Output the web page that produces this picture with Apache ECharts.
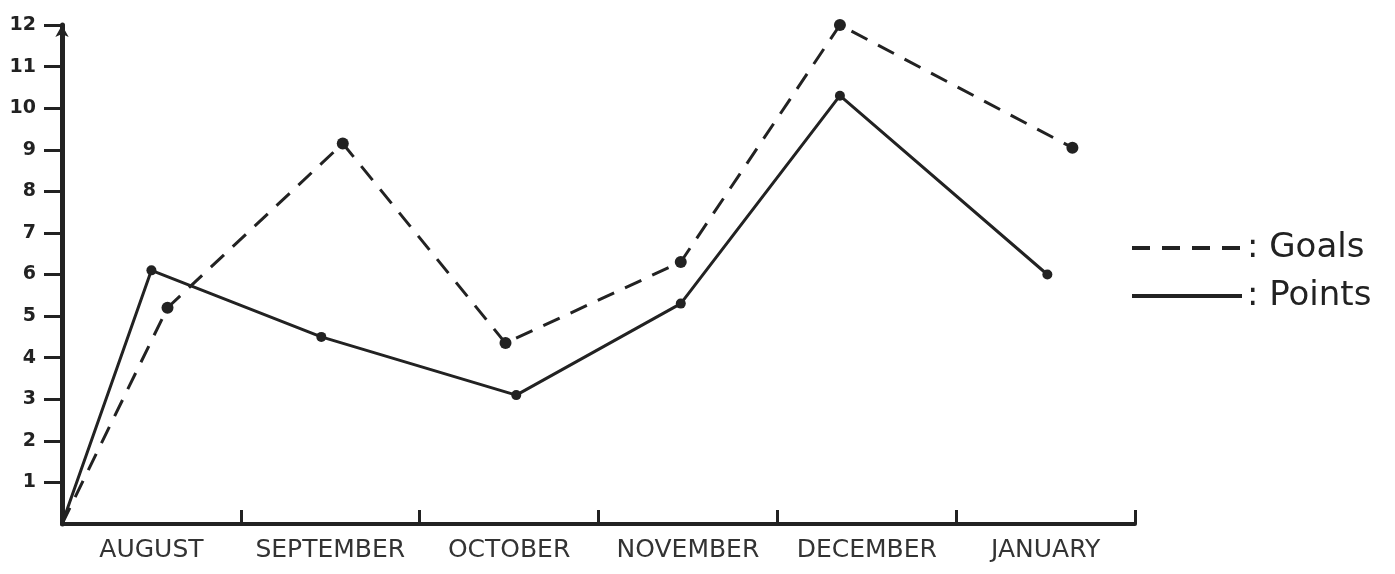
<!DOCTYPE html>
<html>
<head>
<meta charset="utf-8">
<script src="https://cdn.jsdelivr.net/npm/echarts@6/dist/echarts.min.js"></script>
<style>
  html, body {margin: 0; padding: 0; background: #fff;}
  #chart {width: 1395px; height: 574px;}
</style>
</head>
<body>
<div id="chart"></div>
<script>
// months along the bottom
const months = ['AUGUST', 'SEPTEMBER', 'OCTOBER', 'NOVEMBER', 'DECEMBER', 'JANUARY'];
const yTicks = [1, 2, 3, 4, 5, 6, 7, 8, 9, 10, 11, 12];

// x read as month position (0 = origin), y as value on the left scale
const pointsX = [0, 0.5, 1.45, 2.54, 3.46, 4.35, 5.51];
const pointsY = [0, 6.1, 4.5, 3.1, 5.3, 10.3, 6.0];
const goalsX = [0, 0.59, 1.57, 2.48, 3.46, 4.35, 5.65];
const goalsY = [0, 5.2, 9.15, 4.35, 6.3, 12, 9.05];

const ink = '#222';
const font = '"DejaVu Sans", sans-serif';

const myChart = echarts.init(document.getElementById('chart'));

const option = {
  animation: false,
  grid: {left: 62, right: 260, top: 25, bottom: 50},
  legend: {
    orient: 'vertical',
    left: 1125,
    top: 222,
    itemWidth: 110,
    itemHeight: 20,
    itemGap: 6,
    data: ['Goals', 'Points'],
    formatter: ': {name}',
    itemStyle: {opacity: 0},
    lineStyle: {width: 4},
    textStyle: {fontFamily: font, fontSize: 34, lineHeight: 42, color: ink}
  },
  xAxis: [{
    type: 'category',
    data: months,
    boundaryGap: true,
    axisLine: {lineStyle: {color: ink, width: 4}},
    axisTick: {show: true, inside: true, length: 14, lineStyle: {color: ink, width: 3}},
    axisLabel: {interval: 0, margin: 14, fontFamily: font, fontSize: 25, color: '#333'},
    splitLine: {show: false}
  }, {
    type: 'value',
    min: 0,
    max: 6,
    show: false
  }],
  yAxis: {
    type: 'value',
    min: 0,
    max: 12,
    interval: 1,
    axisLine: {
      show: true,
      symbol: ['none', 'arrow'],
      symbolSize: [10, 12],
      lineStyle: {color: ink, width: 5}
    },
    axisTick: {show: true, length: 18, lineStyle: {color: ink, width: 3}},
    axisLabel: {
      showMinLabel: false,
      margin: 26,
      fontFamily: font,
      fontSize: 19,
      fontWeight: 'bold',
      color: ink,
      formatter: v => yTicks.indexOf(v) >= 0 ? String(v) : ''
    },
    splitLine: {show: false}
  },
  series: [{
    name: 'Goals',
    type: 'line',
    xAxisIndex: 1,
    data: goalsX.map((x, i) => [x, goalsY[i]]),
    symbol: 'circle',
    symbolSize: (v, p) => p.dataIndex === 0 ? 0 : 12,
    itemStyle: {color: ink},
    lineStyle: {color: ink, width: 3, type: [18, 12]}
  }, {
    name: 'Points',
    type: 'line',
    xAxisIndex: 1,
    data: pointsX.map((x, i) => [x, pointsY[i]]),
    symbol: 'circle',
    symbolSize: (v, p) => p.dataIndex === 0 ? 0 : 10,
    itemStyle: {color: ink},
    lineStyle: {color: ink, width: 3}
  }]
};

myChart.setOption(option);
</script>
</body>
</html>
